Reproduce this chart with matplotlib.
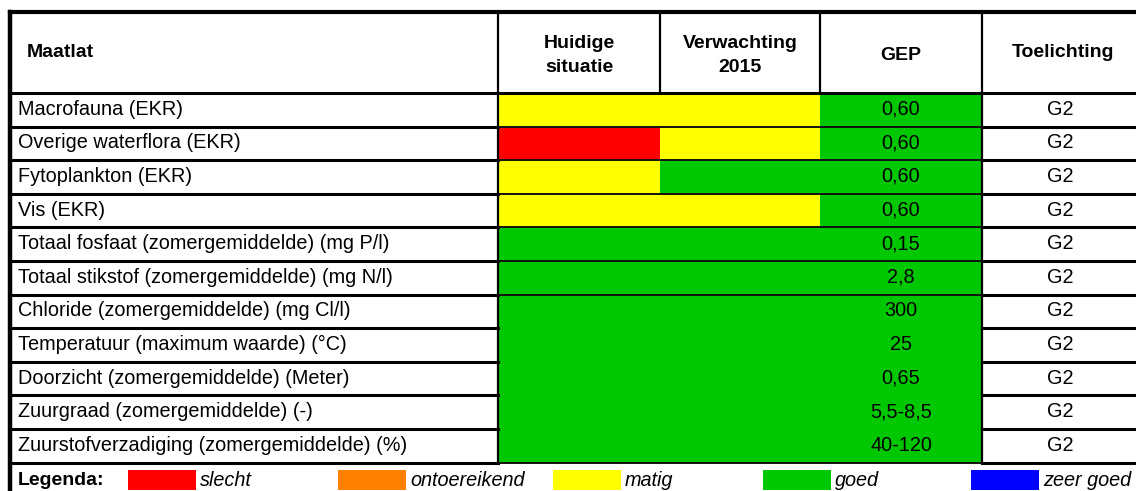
import matplotlib.pyplot as plt
from matplotlib.patches import Rectangle

plt.rcParams['font.family'] = ['Liberation Sans', 'DejaVu Sans']

# table content
labels = ['Macrofauna (EKR)', 'Overige waterflora (EKR)', 'Fytoplankton (EKR)', 'Vis (EKR)',
          'Totaal fosfaat (zomergemiddelde) (mg P/l)', 'Totaal stikstof (zomergemiddelde) (mg N/l)',
          'Chloride (zomergemiddelde) (mg Cl/l)', 'Temperatuur (maximum waarde) (°C)',
          'Doorzicht (zomergemiddelde) (Meter)', 'Zuurgraad (zomergemiddelde) (-)',
          'Zuurstofverzadiging (zomergemiddelde) (%)']
huidige = ['matig', 'slecht', 'matig', 'matig', 'goed', 'goed',
           'goed', 'goed', 'goed', 'goed', 'goed']
verwachting = ['matig', 'matig', 'goed', 'matig', 'goed', 'goed',
               'goed', 'goed', 'goed', 'goed', 'goed']
gep = ['0,60', '0,60', '0,60', '0,60', '0,15', '2,8', '300', '25', '0,65', '5,5-8,5', '40-120']
toelichting = ['G2'] * 11
headers = ['Maatlat', 'Huidige\nsituatie', 'Verwachting\n2015', 'GEP', 'Toelichting']
legend_labels = ['slecht', 'ontoereikend', 'matig', 'goed', 'zeer goed']
klasse_kleur = {'slecht': '#ff0000', 'ontoereikend': '#ff8000', 'matig': '#ffff00',
                'goed': '#00c800', 'zeer goed': '#0000ff'}
merged_start = 6  # rows from here on are one merged green block

# layout
col_x = [10, 498, 660, 820, 982, 1140]
top = 12
head_bottom = 93
row_h = 33.6
fs = 14.3
fs_head = 14.0

fig = plt.figure(figsize=(11.36, 4.91), dpi=100)
ax = fig.add_axes([0, 0, 1, 1])
ax.set_xlim(0, 1136)
ax.set_ylim(491, 0)
ax.axis('off')

n = len(labels)
row_y = [head_bottom + i * row_h for i in range(n + 1)]

# colored cells
for i in range(n):
    y0 = row_y[i]
    for c, val in enumerate([huidige[i], verwachting[i], 'goed']):
        ax.add_patch(Rectangle((col_x[c + 1], y0), col_x[c + 2] - col_x[c + 1], row_h,
                               facecolor=klasse_kleur[val], edgecolor='none', zorder=1))
    ax.text(18, y0 + row_h / 2 - 0.5, labels[i], fontsize=fs, va='center', ha='left')
    ax.text((col_x[3] + col_x[4]) / 2, y0 + row_h / 2 - 0.5, gep[i], fontsize=fs,
            va='center', ha='center')
    ax.text(1060, y0 + row_h / 2 - 0.5, toelichting[i], fontsize=fs, va='center', ha='center')

# header
mid = (top + head_bottom) / 2
for c, h in enumerate(headers):
    if c == 0:
        ax.text(27, mid, h, fontsize=fs_head, fontweight='bold', va='center', ha='left')
    elif c == 4:
        ax.text(1063, mid, h, fontsize=fs_head, fontweight='bold', va='center', ha='center')
    else:
        ax.text((col_x[c] + col_x[c + 1]) / 2, mid + 3, h, fontsize=fs_head,
                fontweight='bold', va='center', ha='center', linespacing=1.55)

# grid lines
lw = 2.2
ax.plot([col_x[0], 1136], [top, top], color='black', lw=lw + 0.8, zorder=3)
ax.plot([col_x[0], 1136], [head_bottom, head_bottom], color='black', lw=lw, zorder=3)
for i in range(1, n + 1):
    y = row_y[i]
    ax.plot([col_x[0], col_x[1]], [y, y], color='black', lw=lw, zorder=3)
    ax.plot([col_x[4], 1136], [y, y], color='black', lw=lw, zorder=3)
    if not (merged_start < i < n):
        ax.plot([col_x[1], col_x[4]], [y, y], color='#111111', lw=1.4, zorder=3)
ax.plot([col_x[0], col_x[0]], [top, 491], color='black', lw=lw + 1, zorder=3)
for x in [col_x[1], col_x[4]]:
    ax.plot([x, x], [top, row_y[-1]], color='black', lw=1.6, zorder=3)
for x in [col_x[2], col_x[3]]:
    ax.plot([x, x], [top, head_bottom], color='black', lw=1.6, zorder=3)

# legend row
leg_y = row_y[-1] + 18
ax.text(18, leg_y, 'Legenda:', fontsize=fs_head, fontweight='bold', va='center', ha='left')
leg_x = [128, 338, 553, 763, 971]
for x, lab in zip(leg_x, legend_labels):
    ax.add_patch(Rectangle((x, leg_y - 11), 68, 20, facecolor=klasse_kleur[lab],
                           edgecolor='none', zorder=1))
    ax.text(x + 72, leg_y, lab, fontsize=fs, style='italic', va='center', ha='left')

fig.savefig('out.png', dpi=100)
